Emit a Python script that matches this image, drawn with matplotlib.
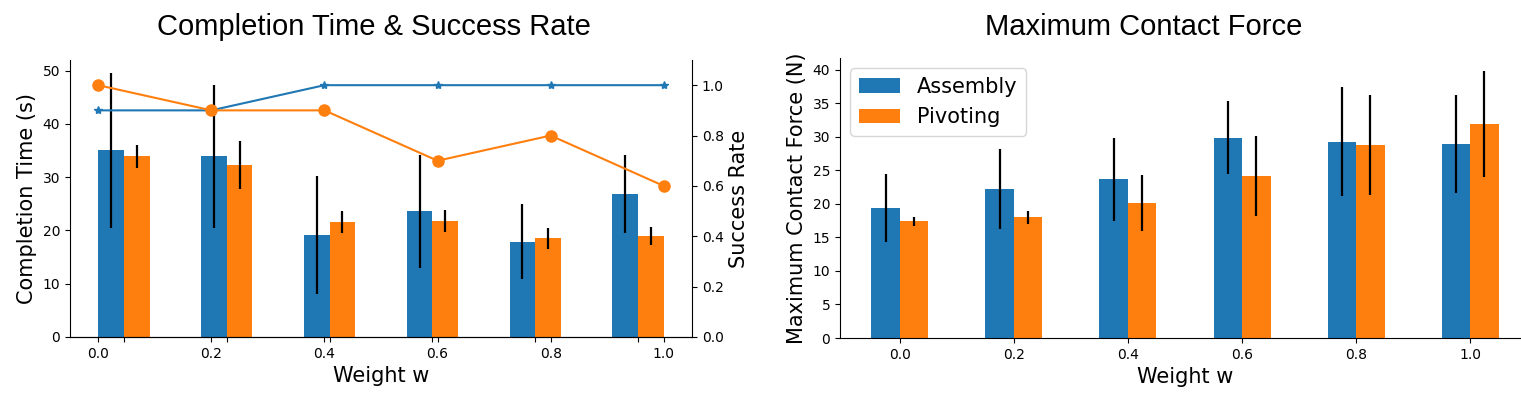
import numpy as np
import matplotlib
matplotlib.use("Agg")
import matplotlib.pyplot as plt

# Weight values
weights = [0.0, 0.2, 0.4, 0.6, 0.8, 1.0]
weight_labels = ["0.0", "0.2", "0.4", "0.6", "0.8", "1.0"]

# Completion time (s): mean and error
asm_time = [35.0, 33.9, 19.1, 23.6, 17.9, 26.9]
asm_time_err = [14.5, 13.4, 11.1, 10.6, 7.1, 7.3]
piv_time = [33.9, 32.2, 21.6, 21.8, 18.5, 18.9]
piv_time_err = [2.2, 4.5, 2.1, 2.1, 2.0, 1.7]

# Success rate
asm_success = [0.9, 0.9, 1.0, 1.0, 1.0, 1.0]
piv_success = [1.0, 0.9, 0.9, 0.7, 0.8, 0.6]

# Maximum contact force (N): mean and error
asm_force = [19.4, 22.2, 23.7, 29.9, 29.3, 28.9]
asm_force_err = [5.1, 6.0, 6.2, 5.4, 8.1, 7.3]
piv_force = [17.4, 18.0, 20.2, 24.2, 28.8, 31.9]
piv_force_err = [0.65, 1.0, 4.2, 6.0, 7.5, 7.9]

BLUE = "#1f77b4"
ORANGE = "#ff7f0e"
TITLE_FONT = "Liberation Sans"
W, H = 1521, 393

fig = plt.figure(figsize=(W / 100, H / 100), dpi=100)

def rect(x0, y0, x1, y1):
    # pixel box (top-left origin) -> figure fraction
    return [x0 / W, (H - y1) / H, (x1 - x0) / W, (y1 - y0) / H]

x = np.arange(len(weights))
width = 0.25
err_kw = dict(ecolor="black", elinewidth=1.6, capsize=0)

# --- Left: completion time bars + success rate lines ---
ax1 = fig.add_axes(rect(70, 60, 692, 337))
ax1.bar(x - width / 2, asm_time, width, yerr=asm_time_err, color=BLUE, error_kw=err_kw)
ax1.bar(x + width / 2, piv_time, width, yerr=piv_time_err, color=ORANGE, error_kw=err_kw)
ax1.set_xticks(x)
ax1.set_xticklabels([])
ax1.set_ylabel("Completion Time (s)", fontsize=15)
ax1.spines["top"].set_visible(False)
ax1.spines["right"].set_visible(False)

ax2 = fig.add_axes(rect(70, 60, 692, 337))
ax2.patch.set_visible(False)
ax2.plot(weights, asm_success, color=BLUE, marker="*", markersize=6, linewidth=1.5)
ax2.plot(weights, piv_success, color=ORANGE, marker="o", markersize=8, linewidth=1.5)
ax2.set_ylim(0, 1.1)
ax2.set_yticks([0.0, 0.2, 0.4, 0.6, 0.8, 1.0])
ax2.yaxis.tick_right()
ax2.yaxis.set_label_position("right")
ax2.set_ylabel("Success Rate", fontsize=15)
ax2.set_xlabel("Weight w", fontsize=15)
ax2.set_xticks(weights)
ax2.set_xticklabels(weight_labels)
ax2.spines["top"].set_visible(False)
ax2.spines["left"].set_visible(False)

fig.text(374 / W, (H - 35) / H, "Completion Time & Success Rate", ha="center",
         va="baseline", fontsize=21, family=TITLE_FONT)

# --- Right: maximum contact force ---
ax3 = fig.add_axes(rect(840, 58, 1530, 338))
ax3.bar(x - width / 2, asm_force, width, yerr=asm_force_err, color=BLUE,
        error_kw=err_kw, label="Assembly")
ax3.bar(x + width / 2, piv_force, width, yerr=piv_force_err, color=ORANGE,
        error_kw=err_kw, label="Pivoting")
ax3.set_xticks(x)
ax3.set_xticklabels(weight_labels)
ax3.set_xlabel("Weight w", fontsize=15)
ax3.set_ylabel("Maximum Contact Force (N)", fontsize=15)
ax3.spines["top"].set_visible(False)
ax3.spines["right"].set_visible(False)
ax3.legend(loc="upper left", fontsize=15)

fig.text(1144 / W, (H - 35) / H, "Maximum Contact Force", ha="center",
         va="baseline", fontsize=21, family=TITLE_FONT)

fig.savefig("out.png", dpi=100)
